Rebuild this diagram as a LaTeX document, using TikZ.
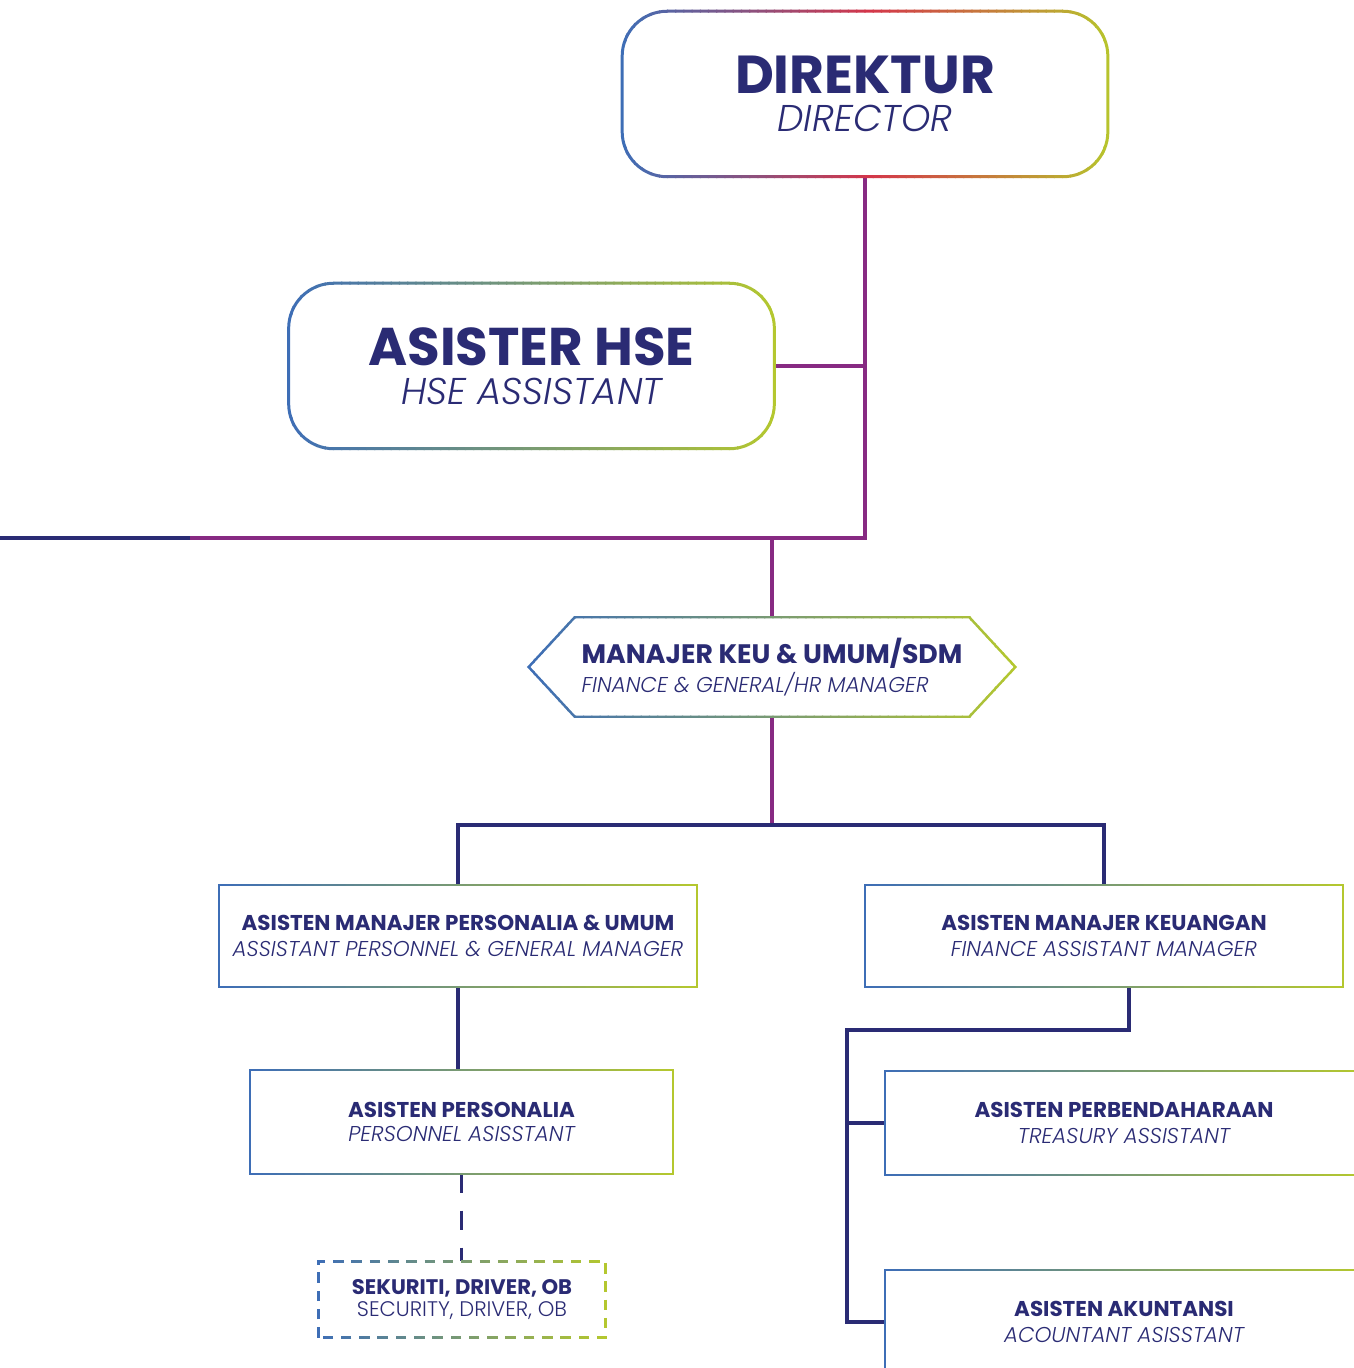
\documentclass[tikz,border=0pt]{standalone}
\usepackage{fontspec}
\setmainfont{Poppins}[BoldFont=Poppins Bold, ItalicFont=Poppins Light Italic]
\newfontfamily\lightfont{Poppins Light}
\usetikzlibrary{positioning, calc}

\definecolor{orgnavy}{HTML}{2A2B74}
\definecolor{orgplum}{HTML}{872A82}
\definecolor{gblue}{HTML}{3E6EB6}
\definecolor{gred}{HTML}{D4364A}
\definecolor{glime}{HTML}{B6C92C}
\colorlet{gmid}{gblue!50!glime}

% left-to-right colour ramp on a stroke, drawn strip by strip
\newcommand{\ramp}[7]{%
  \foreach \k in {0,...,59}{%
    \pgfmathsetmacro\xa{#1+(#2-#1)/60*\k-0.6}%
    \pgfmathsetmacro\xb{#1+(#2-#1)/60*(\k+1)+0.6}%
    \pgfmathtruncatemacro\pa{\k<30 ? 100/30*\k : 100/30*(\k-30)}%
    \ifnum\k<30 \colorlet{rampcol}{#4!\pa!#3}\else \colorlet{rampcol}{#5!\pa!#4}\fi
    \begin{scope}
      \clip (\xa,-50) rectangle (\xb,1450);
      \draw[rampcol,#6] #7;
    \end{scope}
  }%
}

\begin{document}
\begin{tikzpicture}[x=0.01cm, y=-0.01cm,
    bigbox/.style={rectangle, minimum width=4.84cm, minimum height=1.64cm, inner sep=0pt, align=center, text=orgnavy, font=\fontsize{11}{11}\selectfont},
    hexbox/.style={rectangle, minimum width=4.85cm, minimum height=0.98cm, inner sep=0pt, align=left, text=orgnavy, font=\fontsize{7}{7.1}\selectfont},
    rolebox/.style={rectangle, minimum width=4.76cm, minimum height=1.01cm, inner sep=0pt, align=center, text=orgnavy, font=\fontsize{6.1}{7.4}\selectfont},
    link/.style={line width=1pt, orgnavy},
    plumlink/.style={line width=1pt, orgplum}
]
\useasboundingbox (0,0) rectangle (1353,1368);

% boxes
\node[bigbox] (dir) at (865,94) {{\fontsize{15.2}{11.4}\selectfont\bfseries DIREKTUR}\\{\fontsize{10.6}{11.4}\selectfont\itshape DIRECTOR}};
\node[bigbox] (hse) at (531.5,366) {{\fontsize{15.1}{10.8}\selectfont\bfseries ASISTER HSE}\\{\fontsize{10.6}{10.8}\selectfont\itshape HSE ASSISTANT}};
\node[hexbox] (hex) at (772,667) {{\fontsize{7.6}{7.1}\selectfont\bfseries MANAJER KEU \& UMUM/SDM}\\{\fontsize{6.1}{7.1}\selectfont\itshape FINANCE \& GENERAL/HR MANAGER}};
\node[rolebox] (apu) at (458,936) {{\bfseries ASISTEN MANAJER PERSONALIA \& UMUM}\\{\itshape ASSISTANT PERSONNEL \& GENERAL MANAGER}};
\node[rolebox] (amk) at (1104,936) {{\bfseries ASISTEN MANAJER KEUANGAN}\\{\itshape FINANCE ASSISTANT MANAGER}};
\node[rolebox, minimum width=4.21cm, minimum height=1.02cm, font=\fontsize{6.1}{6.6}\selectfont] (ap) at (461.5,1122) {{\bfseries ASISTEN PERSONALIA}\\{\itshape PERSONNEL ASISSTANT}};
\node[rolebox, minimum height=1.02cm] (tre) at (1124,1123) {{\bfseries ASISTEN PERBENDAHARAAN}\\{\itshape TREASURY ASSISTANT}};
\node[rolebox, minimum height=1.02cm] (aku) at (1124,1322) {{\bfseries ASISTEN AKUNTANSI}\\{\itshape ACOUNTANT ASISSTANT}};
\node[rolebox, minimum width=2.86cm, minimum height=0.75cm, font=\fontsize{6}{6.3}\selectfont] (sec) at (462,1299.5) {{\bfseries SEKURITI, DRIVER, OB}\\{\lightfont SECURITY, DRIVER, OB}};

% connectors
\coordinate (lft) at (0,538);
\coordinate (mid) at (190,538);
\coordinate (bus) at (772,825);
\coordinate (rail) at (847,1030);
\draw[plumlink] (dir.south) |- (mid);
\draw[link] (mid) -- (lft);
\draw[plumlink] (hse.east) -- (hse.east -| dir.south);
\draw[plumlink] (hex.north) -- (hex.north |- mid);
\draw[plumlink] (hex.south) -- (bus);
\draw[link] (apu.north) |- (bus) -| (amk.north);
\draw[link] (apu.south) -- (apu.south |- ap.north);
\draw[link, dash pattern=on 5.4pt off 5.1pt] (ap.south) -- (ap.south |- sec.north);
\draw[link] ([xshift=0.25cm]amk.south) |- (rail) |- (aku.west);
\draw[link] (rail |- tre.west) -- (tre.west);

% gradient borders
\ramp{618}{1112}{gblue}{gred}{glime}{line width=0.85pt, rounded corners=0.45cm}{(dir.south west) rectangle (dir.north east)}
\ramp{284}{779}{gblue}{gmid}{glime}{line width=0.85pt, rounded corners=0.45cm}{(hse.south west) rectangle (hse.north east)}
\ramp{526}{1020}{gblue}{gmid}{glime}{line width=0.7pt}{(hex.west) -- ([xshift=0.46cm]hex.north west) -- ([xshift=-0.46cm]hex.north east) -- (hex.east) -- ([xshift=-0.46cm]hex.south east) -- ([xshift=0.46cm]hex.south west) -- cycle}
\ramp{218}{698}{gblue}{gmid}{glime}{line width=0.45pt}{(apu.south west) rectangle (apu.north east)}
\ramp{864}{1344}{gblue}{gmid}{glime}{line width=0.45pt}{(amk.south west) rectangle (amk.north east)}
\ramp{249}{674}{gblue}{gmid}{glime}{line width=0.45pt}{(ap.south west) rectangle (ap.north east)}
\ramp{884}{1364}{gblue}{gmid}{glime}{line width=0.45pt}{(tre.south west) rectangle (tre.north east)}
\ramp{884}{1364}{gblue}{gmid}{glime}{line width=0.45pt}{(aku.south west) rectangle (aku.north east)}
\ramp{316}{608}{gblue}{gmid}{glime}{line width=0.75pt, dash pattern=on 3pt off 2.2pt}{(sec.south west) rectangle (sec.north east)}
\end{tikzpicture}
\end{document}
